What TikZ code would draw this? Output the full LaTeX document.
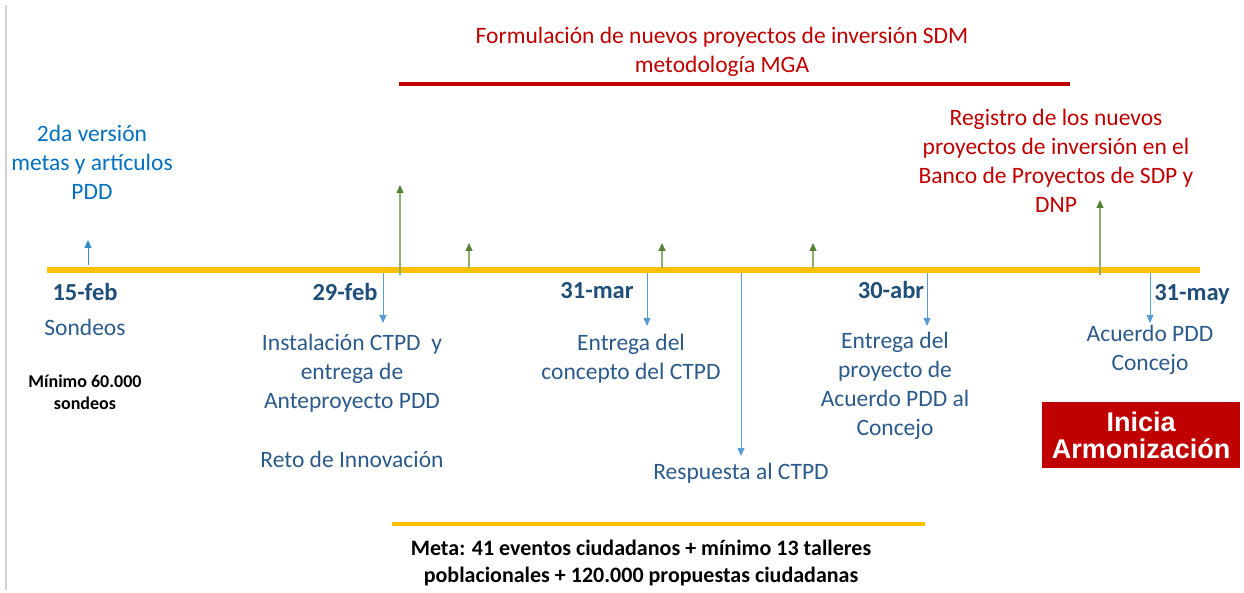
\documentclass[tikz,border=0pt]{standalone}
\usepackage{fontspec}
\setmainfont{Carlito}
\newfontfamily\boxfont{Liberation Sans}
\usetikzlibrary{arrows.meta}

\definecolor{tlorange}{HTML}{FFC000}
\definecolor{tlred}{HTML}{C00000}
\definecolor{txblue}{HTML}{0070C0}
\definecolor{datblue}{HTML}{1F4E79}
\definecolor{evblue}{HTML}{2B5A8A}
\definecolor{arrblue}{HTML}{5B9BD5}
\definecolor{grshaft}{HTML}{8FAF72}
\definecolor{grhead}{HTML}{548235}

\begin{document}
\begin{tikzpicture}[x=1pt,y=-1pt,>={Triangle[length=8pt,width=7pt]},
    date/.style={font=\fontsize{24.5}{29}\selectfont\bfseries,text=datblue,inner sep=0pt},
    event/.style={font=\fontsize{23.5}{29}\selectfont,text=evblue,align=center,inner sep=0pt},
    redtext/.style={font=\fontsize{23.5}{29}\selectfont,text=tlred,align=center,inner sep=0pt},
    upgreen/.style={->,line width=1.2pt,draw=grshaft,>={Triangle[length=8pt,width=7pt,color=grhead]}},
    downblue/.style={->,line width=1pt,draw=arrblue},
    bar/.style={line width=#1}]
    \useasboundingbox (0,0) rectangle (1244,593);
    \draw[line width=1.5pt,black!18] (6,5) -- (6,590);

    % top: formulation period
    \node[redtext] (form) at (722,52) {Formulación de nuevos proyectos de inversión SDM\\metodología MGA};
    \draw[bar=4pt,tlred] (399,84) -- (1070,84);

    \node[event,text=txblue] (ver2) at (92,162) {2da versión\\metas y artículos\\PDD};
    \node[redtext] (reg) at (1056,161) {Registro de los nuevos\\proyectos de inversión en el\\Banco de Proyectos de SDP y\\DNP};

    % the time line
    \draw[bar=6pt,tlorange] (47,270) -- (1200,270);

    % dates
    \node[date] (d15) at (85,292) {15-feb};
    \node[date] (d29) at (345,292) {29-feb};
    \node[date] (d31m) at (597,291) {31-mar};
    \node[date] (d30a) at (891,290) {30-abr};
    \node[date] (d31y) at (1192,294) {31-may};

    % events
    \node[event] (sond) at (85,327) {Sondeos};
    \node[font=\fontsize{18}{22}\selectfont\bfseries,align=center,inner sep=0pt] (min) at (85,392) {Mínimo 60.000\\sondeos};
    \node[event] (inst) at (352,373) {Instalación CTPD~ y\\entrega de\\Anteproyecto PDD};
    \node[event] (reto) at (352,459) {Reto de Innovación};
    \node[event] (conc) at (631,359) {Entrega del\hspace{14pt}\\concepto del CTPD};
    \node[event] (resp) at (741,473) {Respuesta al CTPD};
    \node[event] (proy) at (895,386) {Entrega del\\proyecto de\\Acuerdo PDD al\\Concejo};
    \node[event] (acu) at (1150,350) {Acuerdo PDD\\Concejo};

    \node[fill=tlred,text=white,minimum width=198,minimum height=66,inner sep=0pt,align=center,
          font=\boxfont\fontsize{27}{27}\selectfont\bfseries] (armo) at (1141,435) {Inicia\\Armonización};

    % arrows up
    \coordinate (u0a) at (88,265);  \coordinate (u0b) at (88,240);
    \draw[->,line width=1pt,draw=txblue!80] (u0a) -- (u0b);
    \foreach \i/\x/\ya/\yb in {1/400/275/185, 2/469/268/243, 3/662/268/243, 4/813/268/243, 5/1100/275/200}{
        \coordinate (ga\i) at (\x,\ya);
        \coordinate (gb\i) at (\x,\yb);
        \draw[upgreen] (ga\i) -- (gb\i);
    }

    % arrows down
    \foreach \i/\x/\yb in {1/383/323, 2/647/326, 3/741/456, 4/927/326, 5/1150/323}{
        \coordinate (ba\i) at (\x,273);
        \coordinate (bb\i) at (\x,\yb);
        \draw[downblue] (ba\i) -- (bb\i);
    }

    % bottom: goal
    \draw[bar=4pt,tlorange] (392,524) -- (925,524);
    \node[font=\fontsize{22}{27}\selectfont\bfseries,align=center,inner sep=0pt] (meta) at (641,563)
        {Meta: 41 eventos ciudadanos + mínimo 13 talleres\\poblacionales + 120.000 propuestas ciudadanas};
\end{tikzpicture}
\end{document}
